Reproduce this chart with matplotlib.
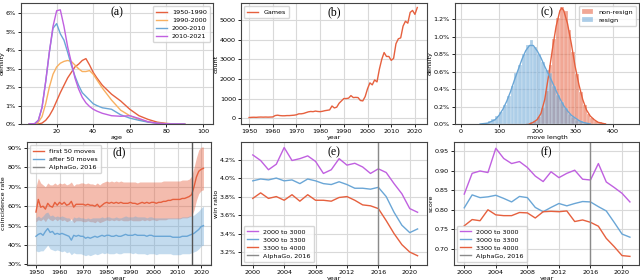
import matplotlib
matplotlib.use("Agg")
import matplotlib.pyplot as plt
from matplotlib.ticker import PercentFormatter

# ---- data ----
# (a) age density per period, in percent
ages = [5, 8, 10, 12, 14, 16, 18, 20, 22, 24, 26, 28, 30, 32, 34, 36, 38, 40, 42, 45, 50, 55, 60, 65, 70, 75, 80, 85, 90]
dens_1950_1990 = [0, 0, 0, 0.05, 0.2, 0.45, 0.8, 1.25, 1.7, 2.1, 2.5, 2.8, 3.1, 3.25, 3.45, 3.55, 3.2, 2.8, 2.5, 2.1, 1.62, 1.25, 0.8, 0.45, 0.25, 0.1, 0.03, 0, 0]
dens_1990_2000 = [0, 0, 0.1, 0.4, 1.1, 2.0, 2.7, 3.1, 3.3, 3.4, 3.45, 3.4, 3.2, 3.0, 2.85, 2.85, 2.9, 2.7, 2.4, 1.95, 1.3, 0.75, 0.45, 0.25, 0.12, 0.05, 0.02, 0, 0]
dens_2000_2010 = [0, 0.02, 0.2, 0.9, 2.3, 3.9, 5.2, 5.45, 4.9, 4.55, 3.9, 3.2, 2.6, 2.1, 1.7, 1.5, 1.3, 1.1, 1.0, 0.88, 0.8, 0.5, 0.32, 0.2, 0.1, 0.04, 0.01, 0, 0]
dens_2010_2021 = [0, 0.02, 0.2, 0.9, 2.3, 3.9, 5.3, 6.15, 6.2, 5.3, 4.2, 3.35, 2.5, 1.9, 1.45, 1.15, 0.95, 0.8, 0.7, 0.58, 0.45, 0.42, 0.45, 0.3, 0.12, 0.04, 0.01, 0, 0]

# (b) games per year
years = list(range(1950, 2022))
games = [30, 40, 45, 40, 50, 55, 50, 55, 50, 55,
         60, 130, 150, 130, 120, 120, 130, 130, 140, 150,
         170, 220, 220, 240, 280, 320, 340, 330, 360, 340,
         330, 350, 380, 400, 420, 620, 520, 560, 760, 880,
         1000, 1000, 1020, 1150, 1050, 1060, 1050, 900, 880, 1100,
         1500, 1800, 1700, 1950, 1850, 2500, 3000, 3350, 3150, 3150,
         2950, 3050, 3800, 4050, 4100, 4700, 4950, 4850, 5400, 5500,
         5300, 5650]

# (c) move length histograms (bin left edges, width 10) and kde, percent
nr_bins = [170, 180, 190, 200, 210, 220, 230, 240, 250, 260, 270, 280, 290, 300, 310, 320, 330, 340, 350, 360, 370]
nr_hist = [0.01, 0.02, 0.04, 0.08, 0.18, 0.38, 0.68, 0.98, 1.22, 1.34, 1.3, 1.08, 0.82, 0.57, 0.37, 0.22, 0.12, 0.07, 0.04, 0.02, 0.01]
rs_bins = [50, 60, 70, 80, 90, 100, 110, 120, 130, 140, 150, 160, 170, 180, 190, 200, 210, 220, 230, 240, 250, 260, 270, 280, 290, 300, 310, 320, 330]
rs_hist = [0.005, 0.01, 0.03, 0.06, 0.09, 0.14, 0.22, 0.32, 0.44, 0.58, 0.68, 0.8, 0.9, 0.96, 0.88, 0.8, 0.71, 0.62, 0.58, 0.43, 0.33, 0.25, 0.18, 0.12, 0.08, 0.05, 0.03, 0.015, 0.005]
nr_x = [180, 190, 200, 210, 220, 230, 240, 250, 260, 265, 270, 280, 290, 300, 310, 320, 330, 340, 350, 360, 370, 380]
nr_kde = [0.0, 0.02, 0.05, 0.12, 0.28, 0.55, 0.85, 1.12, 1.3, 1.33, 1.3, 1.15, 0.92, 0.66, 0.45, 0.28, 0.16, 0.09, 0.05, 0.02, 0.01, 0.0]
rs_x = [50, 70, 90, 100, 110, 120, 130, 140, 150, 160, 170, 180, 190, 200, 210, 220, 230, 240, 250, 260, 270, 280, 290, 300, 310, 320, 330, 340]
rs_kde = [0.0, 0.01, 0.05, 0.1, 0.17, 0.26, 0.37, 0.5, 0.62, 0.74, 0.84, 0.9, 0.9, 0.84, 0.76, 0.66, 0.57, 0.48, 0.38, 0.29, 0.21, 0.15, 0.1, 0.07, 0.04, 0.02, 0.01, 0.0]

# (d) coincidence rate, mean and band, percent
first_mean = [57.0, 63.5, 59.5, 60.0, 58.5, 61.5, 60.0, 59.5, 62.0, 60.5,
              62.0, 61.0, 62.0, 60.5, 61.0, 62.5, 59.5, 61.0, 61.0, 61.0,
              61.0, 60.5, 61.0, 60.5, 60.5, 60.0, 61.0, 59.5, 60.5, 61.5,
              62.0, 61.5, 62.0, 61.5, 62.0, 61.5, 62.0, 61.5, 61.5, 61.5,
              62.0, 61.5, 61.5, 61.0, 61.5, 62.0, 61.5, 62.0, 61.5, 62.0,
              62.0, 61.5, 62.0, 62.0, 62.5, 62.5, 63.0, 63.0, 63.5, 63.5,
              63.5, 63.5, 64.0, 64.0, 64.5, 65.0, 66.0, 70.0, 75.0, 78.0,
              79.0, 79.5]
first_hi = [70.0, 74.5, 72.0, 71.0, 70.0, 72.0, 71.0, 71.0, 72.0, 71.0,
            72.0, 71.5, 72.0, 71.0, 71.5, 72.5, 70.5, 71.5, 71.5, 72.0,
            72.0, 71.5, 72.0, 71.5, 71.5, 71.0, 72.0, 71.0, 72.0, 72.5,
            73.0, 72.5, 73.0, 72.5, 73.0, 72.5, 73.0, 72.5, 72.5, 72.5,
            72.5, 72.5, 72.5, 72.0, 72.5, 72.5, 72.5, 72.5, 72.5, 72.5,
            72.5, 72.5, 72.5, 72.5, 73.0, 73.0, 73.0, 73.0, 73.0, 73.0,
            73.0, 73.0, 73.5, 73.5, 73.5, 74.0, 75.5, 80.0, 85.0, 89.0,
            90.5, 90.5]
first_lo = [52.0, 53.0, 52.5, 53.5, 52.0, 54.0, 53.0, 52.5, 53.5, 52.5,
            53.5, 52.5, 53.0, 52.0, 52.5, 53.5, 51.5, 52.5, 52.5, 52.5,
            52.0, 52.0, 52.5, 52.0, 52.0, 51.5, 52.5, 51.5, 52.0, 52.5,
            53.0, 52.5, 53.0, 52.5, 53.0, 52.5, 53.0, 52.5, 52.5, 52.5,
            53.0, 52.5, 52.5, 52.5, 52.5, 53.0, 52.5, 53.0, 52.5, 53.0,
            53.0, 52.5, 53.0, 53.0, 53.0, 53.0, 53.5, 53.5, 53.5, 53.5,
            53.5, 53.5, 54.0, 54.0, 54.0, 54.5, 55.0, 58.0, 63.0, 66.5,
            68.0, 68.5]
after_mean = [44.5, 45.5, 46.0, 45.0, 47.0, 48.5, 46.5, 47.0, 45.5, 46.0,
              45.5, 46.0, 45.5, 45.0, 44.5, 42.5, 45.0, 44.5, 45.0, 44.5,
              44.5, 43.5, 44.0, 43.5, 44.0, 44.5, 44.0, 44.5, 45.0, 44.5,
              45.0, 45.0, 44.5, 44.5, 45.0, 44.5, 44.5, 45.0, 45.5, 45.0,
              45.0, 45.0, 45.5, 45.0, 45.0, 45.0, 45.0, 44.5, 45.0, 45.0,
              44.5, 44.5, 44.5, 44.5, 44.5, 44.5, 44.5, 44.5, 44.0, 44.0,
              44.0, 44.0, 44.5, 44.5, 44.5, 45.0, 45.5, 46.0, 47.0, 48.0,
              49.5, 50.0]
after_hi = [54.0, 55.0, 54.0, 55.0, 56.5, 57.0, 55.0, 55.5, 54.5, 55.0,
            54.5, 55.0, 54.5, 54.0, 54.0, 52.5, 54.5, 54.0, 54.5, 54.0,
            54.0, 53.5, 54.0, 53.5, 54.0, 54.0, 54.0, 54.0, 54.5, 54.0,
            54.5, 54.5, 54.0, 54.0, 54.5, 54.0, 54.0, 54.5, 55.0, 54.5,
            54.5, 54.5, 55.0, 54.5, 54.5, 54.5, 54.5, 54.0, 54.5, 54.5,
            54.0, 54.0, 54.0, 54.0, 54.0, 54.0, 54.0, 54.0, 54.0, 54.0,
            54.0, 54.0, 54.5, 54.5, 54.5, 55.0, 55.0, 55.5, 56.5, 57.5,
            59.0, 60.0]
after_lo = [37.0, 36.5, 37.0, 37.0, 38.5, 40.0, 38.0, 37.5, 37.0, 37.5,
            37.0, 36.5, 37.0, 36.0, 36.5, 35.0, 36.0, 35.5, 35.5, 35.5,
            35.0, 34.5, 35.0, 34.5, 35.0, 35.5, 35.0, 35.5, 36.0, 35.5,
            36.0, 35.5, 35.5, 35.5, 36.0, 35.5, 35.5, 36.0, 36.0, 36.0,
            36.0, 35.5, 36.0, 35.5, 35.5, 35.5, 35.5, 35.0, 35.5, 35.5,
            35.5, 35.0, 35.5, 35.5, 35.5, 35.5, 35.5, 35.5, 35.0, 35.0,
            35.0, 35.0, 35.5, 35.5, 35.5, 35.5, 36.0, 36.5, 37.0, 38.0,
            39.5, 40.0]

# (e) win ratio (percent) and (f) score, by rating band
years2 = list(range(2000, 2022))
win_2000_3000 = [4.25, 4.19, 4.09, 4.15, 4.33, 4.19, 4.21, 4.24, 4.18, 4.05, 4.09, 4.21, 4.14, 4.16, 4.12, 4.05, 4.10, 4.06, 3.94, 3.83, 3.67, 3.63]
win_3000_3300 = [3.97, 3.99, 3.98, 4.00, 3.97, 3.98, 3.94, 3.99, 3.97, 3.94, 3.93, 3.96, 3.93, 3.89, 3.89, 3.88, 3.90, 3.80, 3.63, 3.49, 3.41, 3.45]
win_3300_4000 = [3.78, 3.84, 3.78, 3.80, 3.76, 3.82, 3.75, 3.82, 3.76, 3.76, 3.75, 3.79, 3.80, 3.76, 3.71, 3.70, 3.67, 3.54, 3.40, 3.28, 3.20, 3.16]
score_2000_3000 = [0.840, 0.893, 0.899, 0.895, 0.957, 0.931, 0.918, 0.923, 0.908, 0.886, 0.872, 0.897, 0.882, 0.893, 0.901, 0.878, 0.876, 0.918, 0.871, 0.857, 0.842, 0.820]
score_3000_3300 = [0.805, 0.838, 0.831, 0.833, 0.837, 0.829, 0.820, 0.834, 0.831, 0.806, 0.795, 0.806, 0.816, 0.810, 0.816, 0.821, 0.820, 0.808, 0.797, 0.768, 0.738, 0.730]
score_3300_4000 = [0.759, 0.775, 0.772, 0.800, 0.787, 0.785, 0.785, 0.793, 0.792, 0.779, 0.795, 0.796, 0.795, 0.797, 0.770, 0.774, 0.768, 0.758, 0.727, 0.706, 0.683, 0.681]

# ---- style ----
RED = '#e6603e'
ORANGE = '#f8b060'
BLUE = '#6aa6d6'
PURPLE = '#c060e0'
GREY = '#8a8a8a'

plt.rcParams['font.family'] = ['DejaVu Sans']
plt.rcParams['font.size'] = 4.6
plt.rcParams['axes.edgecolor'] = '#444444'
plt.rcParams['axes.linewidth'] = 0.8
plt.rcParams['axes.labelpad'] = 0.8
plt.rcParams['grid.color'] = '#d9d9d9'
plt.rcParams['grid.linewidth'] = 0.8
plt.rcParams['xtick.major.size'] = 2.2
plt.rcParams['ytick.major.size'] = 2.2
plt.rcParams['xtick.major.width'] = 0.6
plt.rcParams['ytick.major.width'] = 0.6
plt.rcParams['xtick.major.pad'] = 1.3
plt.rcParams['ytick.major.pad'] = 1.5
plt.rcParams['legend.fontsize'] = 4.6
plt.rcParams['legend.edgecolor'] = '#cccccc'
plt.rcParams['legend.handlelength'] = 1.7
plt.rcParams['legend.labelspacing'] = 0.4
plt.rcParams['legend.borderpad'] = 0.5
plt.rcParams['lines.linewidth'] = 1.0

fig = plt.figure(figsize=(6.4, 2.8), dpi=100)
W, H = 640.0, 280.0


def make_ax(x0, x1, ytop, ybot):
    ax = fig.add_axes([x0 / W, 1 - ybot / H, (x1 - x0) / W, (ybot - ytop) / H])
    ax.grid(True)
    ax.set_axisbelow(True)
    return ax


def tag(ax, s):
    ax.text(0.5, 0.92, s, transform=ax.transAxes, ha='center', va='center',
            family='Liberation Serif', fontsize=8.5)


# (a)
ax = make_ax(21, 213, 3, 124)
ax.plot(ages, dens_1950_1990, color=RED, label='1950-1990')
ax.plot(ages, dens_1990_2000, color=ORANGE, label='1990-2000')
ax.plot(ages, dens_2000_2010, color=BLUE, label='2000-2010')
ax.plot(ages, dens_2010_2021, color=PURPLE, label='2010-2021')
ax.set_xlim(0.5, 105.5)
ax.set_ylim(0, 6.57)
ax.set_xticks([20, 40, 60, 80, 100])
ax.yaxis.set_major_formatter(PercentFormatter(100, decimals=0))
ax.set_xlabel('age')
ax.set_ylabel('density')
ax.legend(loc='upper right')
tag(ax, '(a)')

# (b)
ax = make_ax(241, 427, 3, 124)
ax.plot(years, games, color=RED, label='Games')
ax.set_xlim(1946.6, 2025.1)
ax.set_ylim(-300, 5880)
ax.set_xticks(range(1950, 2021, 10))
ax.set_xlabel('year')
ax.set_ylabel('count')
ax.legend(loc='upper left')
tag(ax, '(b)')

# (c)
ax = make_ax(455, 639, 3, 124)
ax.bar(nr_bins, nr_hist, width=10, align='edge', color=RED, alpha=0.55,
       edgecolor='white', linewidth=0.3, label='non-resign')
ax.bar(rs_bins, rs_hist, width=10, align='edge', color=BLUE, alpha=0.55,
       edgecolor='white', linewidth=0.3, label='resign')
ax.plot(nr_x, nr_kde, color=RED)
ax.plot(rs_x, rs_kde, color=BLUE)
ax.set_xlim(-16, 468)
ax.set_ylim(0, 1.387)
ax.set_xticks([0, 100, 200, 300, 400])
ax.yaxis.set_major_formatter(PercentFormatter(100, decimals=1))
ax.set_xlabel('move length')
ax.set_ylabel('density')
ax.legend(loc='upper right')
tag(ax, '(c)')

# (d)
ax = make_ax(27, 211, 142, 265)
ax.fill_between(years, first_lo, first_hi, color=RED, alpha=0.42, linewidth=0)
ax.fill_between(years, after_lo, after_hi, color=BLUE, alpha=0.4, linewidth=0)
ax.plot(years, first_mean, color=RED, label='first 50 moves')
ax.plot(years, after_mean, color=BLUE, label='after 50 moves')
ax.axvline(2016, color='#555555', linewidth=1.0, label='AlphaGo, 2016')
ax.set_xlim(1946.2, 2024.2)
ax.set_ylim(29.7, 93.1)
ax.set_xticks(range(1950, 2021, 10))
ax.yaxis.set_major_formatter(PercentFormatter(100, decimals=0))
ax.set_xlabel('year')
ax.set_ylabel('coincidence rate')
leg = ax.legend(loc='upper left')
leg.get_lines()[2].set_color(GREY)
tag(ax, '(d)')

# (e)
ax = make_ax(241, 427, 142, 265)
ax.plot(years2, win_2000_3000, color=PURPLE, label='2000 to 3000')
ax.plot(years2, win_3000_3300, color=BLUE, label='3000 to 3300')
ax.plot(years2, win_3300_4000, color=RED, label='3300 to 4000')
ax.axvline(2016, color=GREY, linewidth=1.0, label='AlphaGo, 2016')
ax.set_xlim(1998.5, 2022.2)
ax.set_ylim(3.06, 4.39)
ax.set_xticks(range(2000, 2021, 4))
ax.set_yticks([3.2, 3.4, 3.6, 3.8, 4.0, 4.2])
ax.yaxis.set_major_formatter(PercentFormatter(100, decimals=1))
ax.set_xlabel('year')
ax.set_ylabel('win ratio')
ax.legend(loc='lower left')
tag(ax, '(e)')

# (f)
ax = make_ax(454, 639, 142, 265)
ax.plot(years2, score_2000_3000, color=PURPLE, label='2000 to 3000')
ax.plot(years2, score_3000_3300, color=BLUE, label='3000 to 3300')
ax.plot(years2, score_3300_4000, color=RED, label='3300 to 4000')
ax.axvline(2016, color=GREY, linewidth=1.0, label='AlphaGo, 2016')
ax.set_xlim(1998.7, 2022.15)
ax.set_ylim(0.659, 0.973)
ax.set_xticks(range(2000, 2021, 4))
ax.set_yticks([0.70, 0.75, 0.80, 0.85, 0.90, 0.95])
ax.set_xlabel('year')
ax.set_ylabel('score')
ax.legend(loc='lower left')
tag(ax, '(f)')

fig.savefig('out.png', dpi=100)
